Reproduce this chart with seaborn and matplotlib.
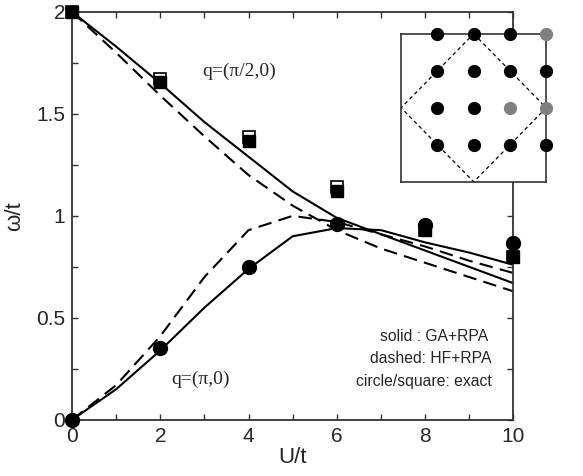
import numpy as np
import pandas as pd
import matplotlib
matplotlib.use("Agg")
import matplotlib.pyplot as plt
import seaborn as sns
from matplotlib.ticker import MultipleLocator

sns.set_theme(style="ticks")
plt.rcParams['font.family'] = ['Liberation Sans', 'DejaVu Sans']

# ---- data ----
U = [0, 1, 2, 3, 4, 5, 6, 7, 8, 9, 10]
ga_pi2 = [2.0, 1.83, 1.65, 1.46, 1.29, 1.12, 0.99, 0.91, 0.83, 0.75, 0.67]
ga_pi = [0.0, 0.15, 0.34, 0.55, 0.74, 0.90, 0.94, 0.93, 0.87, 0.82, 0.76]
hf_pi2 = [2.0, 1.80, 1.59, 1.39, 1.20, 1.05, 0.93, 0.84, 0.77, 0.70, 0.63]
hf_pi = [0.0, 0.17, 0.41, 0.70, 0.93, 1.00, 0.97, 0.91, 0.85, 0.78, 0.72]

U_ex = [0, 2, 4, 6, 8, 10]
ex_circle = [0.0, 0.35, 0.75, 0.96, 0.957, 0.865]
ex_square_open = [2.0, 1.672, 1.385, 1.14, 0.93, 0.80]
ex_square_fill = [2.0, 1.655, 1.365, 1.12, 0.93, 0.80]

y_ticks = [0, 0.5, 1, 1.5, 2]
y_tick_labels = ['0', '0.5', '1', '1.5', '2']

lat_x = [1, 2, 3, 1, 2, 3, 4, 1, 2, 1, 2, 3, 4]
lat_y = [4, 4, 4, 3, 3, 3, 3, 2, 2, 1, 1, 1, 1]
gray_x = [4, 3, 4]
gray_y = [4, 2, 2]
bz_x = [2, 4, 2, 0, 2]
bz_y = [4, 2, 0, 2, 4]

fig = plt.figure(figsize=(5.83, 4.76), dpi=100)
ax = fig.add_axes([0.1235, 0.118, 0.757, 0.857])

lw = 1.5
dash = (6.5, 3.5)
sns.lineplot(x=U, y=ga_pi2, ax=ax, color='black', lw=lw)
sns.lineplot(x=U, y=ga_pi, ax=ax, color='black', lw=lw)
sns.lineplot(x=U, y=hf_pi2, ax=ax, color='black', lw=lw).lines[-1].set_dashes(dash)
sns.lineplot(x=U, y=hf_pi, ax=ax, color='black', lw=lw).lines[-1].set_dashes(dash)

ax.plot(U_ex, ex_square_open, ls='none', marker='s', ms=8, mfc='white', mec='black', mew=1.2, clip_on=False, zorder=5)
ax.plot(U_ex, ex_square_fill, ls='none', marker='s', ms=8, mfc='black', mec='black', clip_on=False, zorder=6)
ax.plot(U_ex, ex_circle, ls='none', marker='o', ms=10, color='black', clip_on=False, zorder=7)

ax.set_xlim(0, 10)
ax.set_ylim(0, 2)
ax.xaxis.set_major_locator(MultipleLocator(2))
ax.xaxis.set_minor_locator(MultipleLocator(1))
ax.yaxis.set_minor_locator(MultipleLocator(0.25))
ax.set_yticks(y_ticks)
ax.set_yticklabels(y_tick_labels)
ax.tick_params(which='both', direction='in', top=True, right=True, length=4, width=1, color='#333333', labelsize=15, pad=5)
for s in ax.spines.values():
    s.set_linewidth(1.3)
    s.set_color('#333333')
ax.set_xlabel('U/t', fontsize=16, labelpad=1)
ax.set_ylabel('ω/t', fontsize=16, labelpad=8)

ax.text(2.95, 1.71, 'q=(π/2,0)', fontsize=14, family=['Liberation Serif', 'DejaVu Serif'], va='center')
ax.text(2.25, 0.20, 'q=(π,0)', fontsize=14, family=['Liberation Serif', 'DejaVu Serif'], va='center')
ax.text(6.98, 0.41, 'solid : GA+RPA', fontsize=11.3, va='center')
ax.text(6.76, 0.30, 'dashed: HF+RPA', fontsize=11.3, va='center')
ax.text(6.44, 0.19, 'circle/square: exact', fontsize=11.3, va='center')

ins = fig.add_axes([0.688, 0.618, 0.249, 0.311])
ins.set_xlim(0, 4)
ins.set_ylim(0, 4)
ins.set_xticks([])
ins.set_yticks([])
for s in ins.spines.values():
    s.set_linewidth(1.2)
    s.set_color('#333333')
ins.plot(bz_x, bz_y, color='black', lw=0.9, ls=(0, (3, 2.5)), clip_on=False)
ins.plot(lat_x, lat_y, ls='none', marker='o', ms=8.5, color='black', clip_on=False, zorder=5)
ins.plot(gray_x, gray_y, ls='none', marker='o', ms=8.5, color='#808080', clip_on=False, zorder=5)

fig.savefig('out.png', dpi=100)
